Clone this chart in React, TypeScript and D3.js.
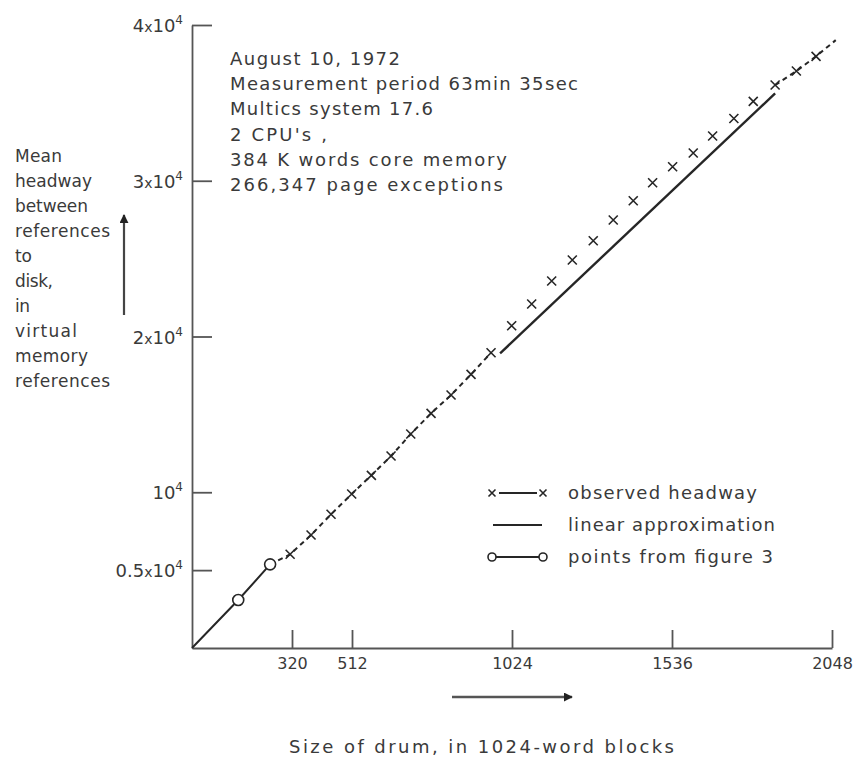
import { useEffect, useRef } from 'react'
import * as d3 from 'd3'

// observed headway (x-x)
const drumSize = [314, 381, 445, 511, 574, 637, 700, 765, 829, 893, 957, 1023, 1087, 1151, 1217, 1284, 1348, 1412, 1474, 1538, 1604, 1666, 1734, 1796, 1866, 1934, 1997]
const headway = [6016, 7255, 8584, 9887, 11087, 12326, 13739, 15068, 16243, 17571, 18958, 20692, 22085, 23561, 24910, 26149, 27478, 28717, 29873, 30899, 31779, 32870, 33994, 35098, 36145, 37043, 37988]
const tailSize = 2060
const tailHeadway = 39030

// points from figure 3 (o-o)
const fig3Size = [0, 148, 250]
const fig3Headway = [0, 3080, 5370]

// linear approximation
const linearSize = [986, 1866]
const linearHeadway = [18920, 35610]

const xTicks = [320, 512, 1024, 1536, 2048]
const yTicks = [5000, 10000, 20000, 30000, 40000]
const yTickPrefix = ['0.5x', '', '2x', '3x', '4x']

const notes = [
  'August 10, 1972',
  'Measurement period 63min 35sec',
  'Multics system 17.6',
  "2 CPU's ,",
  '384 K words core memory',
  '266,347 page exceptions',
]
const noteWidths = [170, 348, 203, 97, 277, 273]

const yLabel = ['Mean', 'headway', 'between', 'references', 'to', 'disk,', 'in', 'virtual', 'memory', 'references']
const yLabelWidths = [47, 77, 73, 95, 17, 38, 15, 62, 73, 95]

const legendLabels = ['observed headway', 'linear approximation', 'points from figure 3']
const legendWidths = [189, 207, 205]

const INK = '#262626'
const TEXT = '#3a3a3a'
const FONT = '"DejaVu Sans", sans-serif'

export default function App() {
  const svgRef = useRef(null)

  useEffect(() => {
    document.body.style.margin = '0'
    const svg = d3.select(svgRef.current)
    svg.selectAll('*').remove()
    svg.attr('width', 853).attr('height', 763).style('background', '#fff')

    const x = d3.scaleLinear().domain([0, 2048]).range([192, 832])
    const y = d3.scaleLinear().domain([0, 40000]).range([648, 25])

    // axes
    const xAxis = d3.axisBottom(x)
      .tickValues(xTicks)
      .tickFormat(d3.format('d'))
      .tickSizeInner(-18)
      .tickSizeOuter(0)
      .tickPadding(10)
    const gx = svg.append('g').attr('transform', `translate(0, ${y(0)})`).call(xAxis)
    gx.selectAll('path, line').attr('stroke', '#555').attr('stroke-width', 1.8)
    gx.selectAll('text')
      .attr('fill', TEXT)
      .style('font-family', FONT)
      .style('font-size', '16px')

    const yAxis = d3.axisLeft(y).tickValues(yTicks).tickSizeInner(-20).tickSizeOuter(0).tickFormat(() => '')
    const gy = svg.append('g').attr('transform', `translate(${x(0)}, 0)`).call(yAxis)
    gy.selectAll('path, line').attr('stroke', '#555').attr('stroke-width', 1.8)

    // y tick labels with superscripts
    yTicks.forEach((v, i) => {
      const t = svg.append('text')
        .attr('x', 183)
        .attr('y', y(v) + 7)
        .attr('text-anchor', 'end')
        .attr('fill', TEXT)
        .style('font-family', FONT)
        .style('font-size', '18px')
      const pre = yTickPrefix[i]
      if (pre) {
        const num = pre.slice(0, -1)
        t.append('tspan').text(num)
        t.append('tspan').style('font-size', '14px').text('x')
      }
      t.append('tspan').text('10')
      t.append('tspan').attr('dy', -8).style('font-size', '12px').text('4')
    })

    // points from figure 3
    const line = d3.line().x(d => x(d[0])).y(d => y(d[1]))
    const fig3 = fig3Size.map((s, i) => [s, fig3Headway[i]])
    svg.append('path')
      .attr('d', line(fig3))
      .attr('fill', 'none')
      .attr('stroke', INK)
      .attr('stroke-width', 2)

    // dashed x-x line where it is drawn
    const obs = drumSize.map((s, i) => [s, headway[i]])
    const dashLow = [fig3[fig3.length - 1], ...obs.slice(0, 11)]
    const dashHigh = [...obs.slice(24), [tailSize, tailHeadway]]
    ;[dashLow, dashHigh].forEach(seg => {
      svg.append('path')
        .attr('d', line(seg))
        .attr('fill', 'none')
        .attr('stroke', INK)
        .attr('stroke-width', 2)
        .attr('stroke-dasharray', '5 4')
    })

    // linear approximation
    const lin = linearSize.map((s, i) => [s, linearHeadway[i]])
    svg.append('path')
      .attr('d', line(lin))
      .attr('fill', 'none')
      .attr('stroke', INK)
      .attr('stroke-width', 2.4)

    // crosses
    const cross = (g, cx, cy, r) => {
      g.append('path')
        .attr('d', `M${cx - r},${cy - r}L${cx + r},${cy + r}M${cx - r},${cy + r}L${cx + r},${cy - r}`)
        .attr('stroke', INK)
        .attr('stroke-width', 1.6)
        .attr('fill', 'none')
    }
    const gc = svg.append('g')
    obs.forEach(d => cross(gc, x(d[0]), y(d[1]), 4.5))

    // circles
    svg.selectAll('circle.fig3')
      .data(fig3.slice(1))
      .enter()
      .append('circle')
      .attr('class', 'fig3')
      .attr('cx', d => x(d[0]))
      .attr('cy', d => y(d[1]))
      .attr('r', 5.5)
      .attr('fill', '#fff')
      .attr('stroke', INK)
      .attr('stroke-width', 1.6)

    // info block
    notes.forEach((n, i) => {
      svg.append('text')
        .attr('x', 230)
        .attr('y', 65 + i * 25.2)
        .attr('textLength', noteWidths[i])
        .attr('lengthAdjust', 'spacing')
        .attr('fill', TEXT)
        .style('font-family', FONT)
        .style('font-size', '18px')
        .text(n)
    })

    // y label
    yLabel.forEach((n, i) => {
      svg.append('text')
        .attr('x', 15)
        .attr('y', 162 + i * 25)
        .attr('textLength', yLabelWidths[i])
        .attr('lengthAdjust', 'spacing')
        .attr('fill', TEXT)
        .style('font-family', FONT)
        .style('font-size', '17px')
        .text(n)
    })

    // arrows
    const defs = svg.append('defs')
    defs.append('marker')
      .attr('id', 'head')
      .attr('viewBox', '0 0 10 10')
      .attr('refX', 9)
      .attr('refY', 5)
      .attr('markerWidth', 9)
      .attr('markerHeight', 9)
      .attr('markerUnits', 'userSpaceOnUse')
      .attr('orient', 'auto')
      .append('path')
      .attr('d', 'M0,0L10,5L0,10Z')
      .attr('fill', '#222')
    svg.append('line')
      .attr('x1', 124).attr('y1', 315).attr('x2', 124).attr('y2', 215)
      .attr('stroke', '#444').attr('stroke-width', 2.2)
      .attr('marker-end', 'url(#head)')
    svg.append('line')
      .attr('x1', 452).attr('y1', 697).attr('x2', 572).attr('y2', 697)
      .attr('stroke', '#555').attr('stroke-width', 2.6)
      .attr('marker-end', 'url(#head)')

    // x label
    svg.append('text')
      .attr('x', 289)
      .attr('y', 753)
      .attr('textLength', 385)
      .attr('lengthAdjust', 'spacing')
      .attr('fill', TEXT)
      .style('font-family', FONT)
      .style('font-size', '18px')
      .text('Size of drum, in 1024-word blocks')

    // legend
    const rows = [493, 525, 557]
    const lg = svg.append('g')
    // x-x
    cross(lg, 492, rows[0], 3.5)
    cross(lg, 543, rows[0], 3.5)
    lg.append('line').attr('x1', 499).attr('x2', 537).attr('y1', rows[0]).attr('y2', rows[0])
      .attr('stroke', INK).attr('stroke-width', 2)
    // linear
    lg.append('line').attr('x1', 493).attr('x2', 542).attr('y1', rows[1]).attr('y2', rows[1])
      .attr('stroke', INK).attr('stroke-width', 2.2)
    // o-o
    lg.append('line').attr('x1', 496).attr('x2', 539).attr('y1', rows[2]).attr('y2', rows[2])
      .attr('stroke', INK).attr('stroke-width', 2)
    ;[492, 543].forEach(cx => {
      lg.append('circle').attr('cx', cx).attr('cy', rows[2]).attr('r', 4)
        .attr('fill', '#fff').attr('stroke', INK).attr('stroke-width', 1.6)
    })
    legendLabels.forEach((l, i) => {
      lg.append('text')
        .attr('x', 568)
        .attr('y', rows[i] + 6)
        .attr('textLength', legendWidths[i])
        .attr('lengthAdjust', 'spacing')
        .attr('fill', TEXT)
        .style('font-family', FONT)
        .style('font-size', '18px')
        .text(l)
    })
  }, [])

  return <svg ref={svgRef} style={{ display: 'block' }}></svg>
}
